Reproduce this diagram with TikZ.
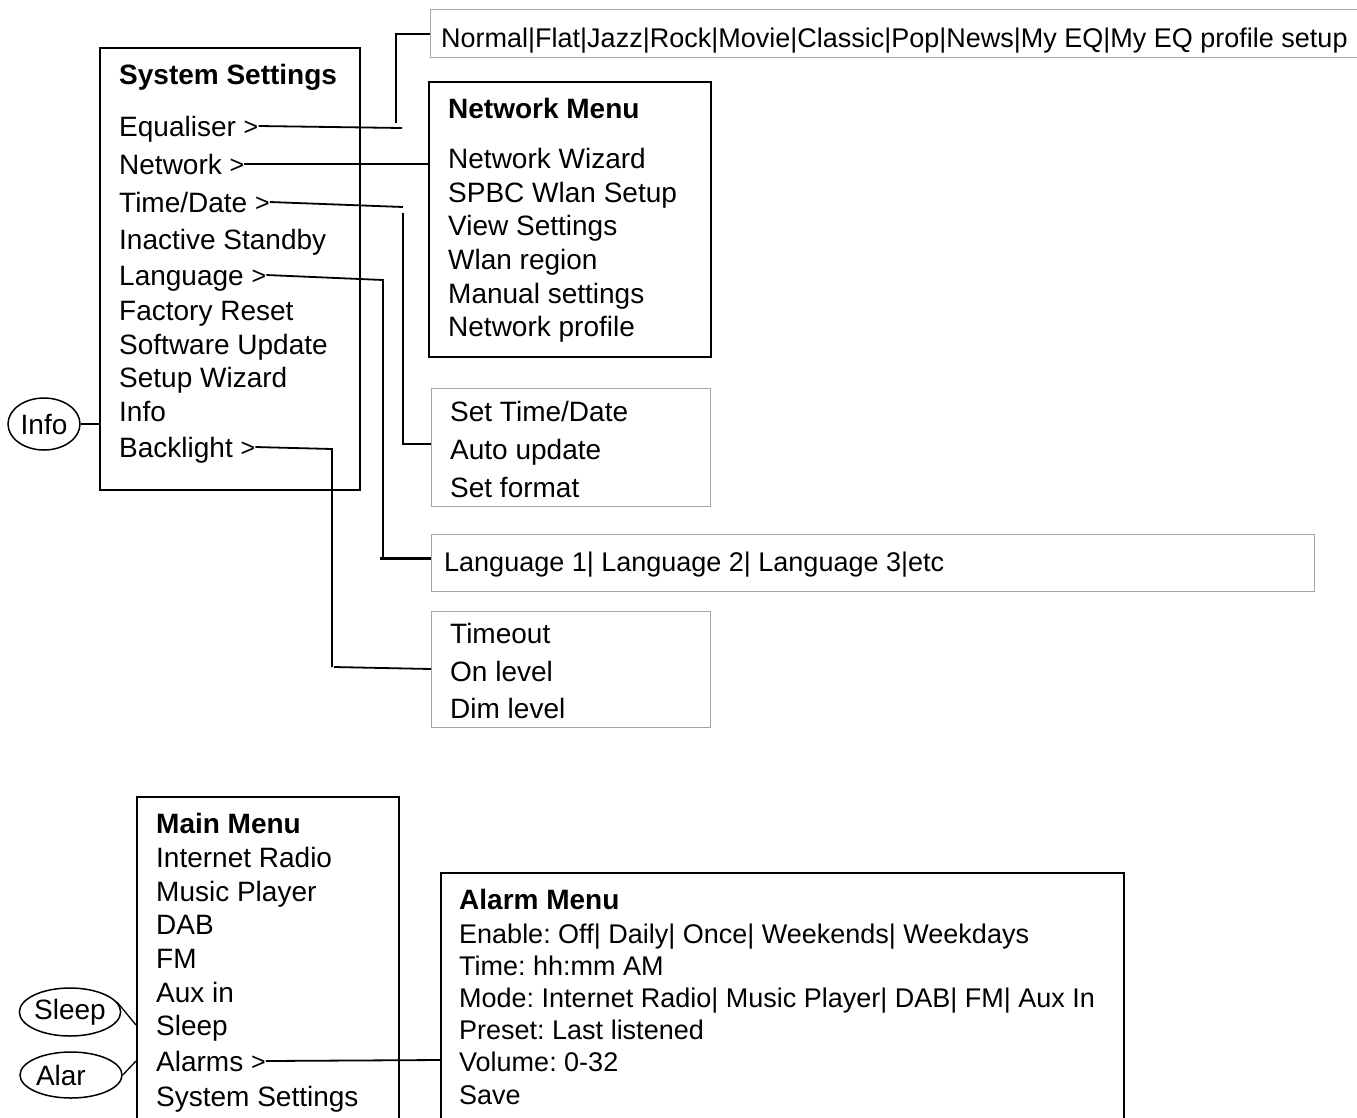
\documentclass[tikz,border=0pt]{standalone}
\usepackage{fontspec}
\setmainfont{Liberation Sans}
\usetikzlibrary{shapes.geometric}
\definecolor{boxgray}{RGB}{165,165,165}
\newcommand\mygt{\raisebox{1pt}{\fontsize{25}{25}\selectfont >}}
\begin{document}
\frenchspacing
\begin{tikzpicture}[x=1pt,y=-1pt,
  item/.style={anchor=base west, inner sep=0pt, text height=20pt, text depth=0pt, font=\fontsize{28}{34}\selectfont},
  sitem/.style={item, font=\fontsize{27}{32}\selectfont},
  ttl/.style={item, font=\fontsize{28}{34}\selectfont\bfseries},
  blackbox/.style={draw=black, line width=1.8pt, inner sep=0pt, anchor=north west},
  graybox/.style={draw=boxgray, line width=1.4pt, inner sep=0pt, anchor=north west},
  conn/.style={draw=black, line width=1.8pt},
  thinconn/.style={draw=black, line width=1.3pt},
  oval/.style={ellipse, draw=black, line width=1.5pt, inner sep=0pt, font=\fontsize{28}{34}\selectfont}
]
\useasboundingbox (0,0) rectangle (1357,1117);
\clip (0,0) rectangle (1357,1117);

% boxes
\node[blackbox, minimum width=260pt, minimum height=442pt] (sysbox) at (99,47) {};
\node[graybox, minimum width=940pt, minimum height=48pt] (eqbox) at (430,9) {};
\node[blackbox, minimum width=282pt, minimum height=275pt] (netbox) at (428,81) {};
\node[graybox, minimum width=279pt, minimum height=118pt] (tdbox) at (431,388) {};
\node[graybox, minimum width=883pt, minimum height=57pt] (langbox) at (431,534) {};
\node[graybox, minimum width=279pt, minimum height=116pt] (blbox) at (431,611) {};
\node[blackbox, minimum width=262pt, minimum height=340pt] (mmbox) at (136,796) {};
\node[blackbox, minimum width=683pt, minimum height=260pt] (alarmbox) at (440,872) {};

% System Settings
\node[ttl] (systitle) at (119,84) {System Settings};
\node[item] (eq) at (119,136) {Equaliser \mygt};
\node[item] (net) at (119,174) {Network \mygt};
\node[item] (td) at (119,212) {Time/Date \mygt};
\node[item] (ins) at (119,249) {Inactive Standby};
\node[item] (lang) at (119,285) {Language \mygt};
\node[item] (fr) at (119,320) {Factory Reset};
\node[item] (su) at (119,354) {Software Update};
\node[item] (sw) at (119,387) {Setup Wizard};
\node[item] (infoi) at (119,421) {Info};
\node[item] (bl) at (119,457) {Backlight \mygt};

% EQ
\node[sitem] (eqtext) at (441,47) {Normal|Flat|Jazz|Rock|Movie|Classic|Pop|News|My EQ|My EQ profile setup};

% Network Menu
\node[ttl] (nettitle) at (448,118) {Network Menu};
\node[item] (n1) at (448,168) {Network Wizard};
\node[item] (n2) at (448,202) {SPBC Wlan Setup};
\node[item] (n3) at (448,235) {View Settings};
\node[item] (n4) at (448,269) {Wlan region};
\node[item] (n5) at (448,303) {Manual settings};
\node[item] (n6) at (448,336) {Network profile};

% Time/Date
\node[item] (t1) at (450,421) {Set Time/Date};
\node[item] (t2) at (450,459) {Auto update};
\node[item] (t3) at (450,497) {Set format};

% Language
\node[sitem] (langtext) at (444,571) {Language 1| Language 2| Language 3|etc};

% Backlight
\node[item] (b1) at (450,643) {Timeout};
\node[item] (b2) at (450,681) {On level};
\node[item] (b3) at (450,718) {Dim level};

% Main Menu
\node[ttl] (mmtitle) at (156,833) {Main Menu};
\node[item] (m1) at (156,867) {Internet Radio};
\node[item] (m2) at (156,901) {Music Player};
\node[item] (m3) at (156,934) {DAB};
\node[item] (m4) at (156,968) {FM};
\node[item] (m5) at (156,1002) {Aux in};
\node[item] (msleep) at (156,1035) {Sleep};
\node[item] (malarms) at (156,1071) {Alarms \mygt};
\node[item] (m8) at (156,1106) {System Settings};

% Alarm Menu
\node[ttl] (amtitle) at (459,909) {Alarm Menu};
\node[sitem] (a1) at (459,943) {Enable: Off| Daily| Once| Weekends| Weekdays};
\node[sitem] (a2) at (459,975) {Time: hh:mm AM};
\node[sitem] (a3) at (459,1007) {Mode: Internet Radio| Music Player| DAB| FM| Aux In};
\node[sitem] (a4) at (459,1039) {Preset: Last listened};
\node[sitem] (a5) at (459,1071) {Volume: 0-32};
\node[sitem] (a6) at (459,1104) {Save};

% ellipses
\node[oval, minimum width=72pt, minimum height=52pt] (info) at (44,424) {Info};
\node[oval, minimum width=100pt, minimum height=48pt] (sleep) at (70,1012) {Sleep};
\node[oval, minimum width=102pt, minimum height=46pt] (alar) at (71,1075) {\makebox[70pt][l]{Alar}};

% connector coordinates
\coordinate (eqA) at (402,128);
\coordinate (eqB) at (396,123);
\coordinate (tdA) at (403,207);
\coordinate (tdB) at (403,213);
\coordinate (tdC) at (431,444);
\coordinate (lgA) at (383,280);
\coordinate (lgB) at (383,558);
\coordinate (lgC) at (380,558);
\coordinate (lgD) at (431,558);
\coordinate (blA) at (332,449);
\coordinate (blB) at (332,667);
\coordinate (blC) at (334,667);
\coordinate (blD) at (431,669);
\coordinate (alA) at (440,1060);

% connectors
\draw[conn] (eq.east) -- (eqA);
\draw[conn] (eqB) |- (eqbox.west);
\draw[conn] (net.east) -- (net.east -| netbox.west);
\draw[conn] (td.east) -- (tdA);
\draw[conn] (tdB) |- (tdC);
\draw[conn] (lang.east) -- (lgA) -- (lgB);
\draw[draw=black, line width=3pt] (lgC) -- (lgD);
\draw[conn] (bl.east) -- (blA) -- (blB);
\draw[conn] (blC) -- (blD);
\draw[conn] (malarms.east) -- (alA);
\draw[conn] (info.east) -- (info.east -| sysbox.west);
\draw[thinconn] (sleep.12) -- (msleep.west -| mmbox.west);
\draw[thinconn] (alar.east) -- (malarms.west -| mmbox.west);
\end{tikzpicture}
\end{document}
